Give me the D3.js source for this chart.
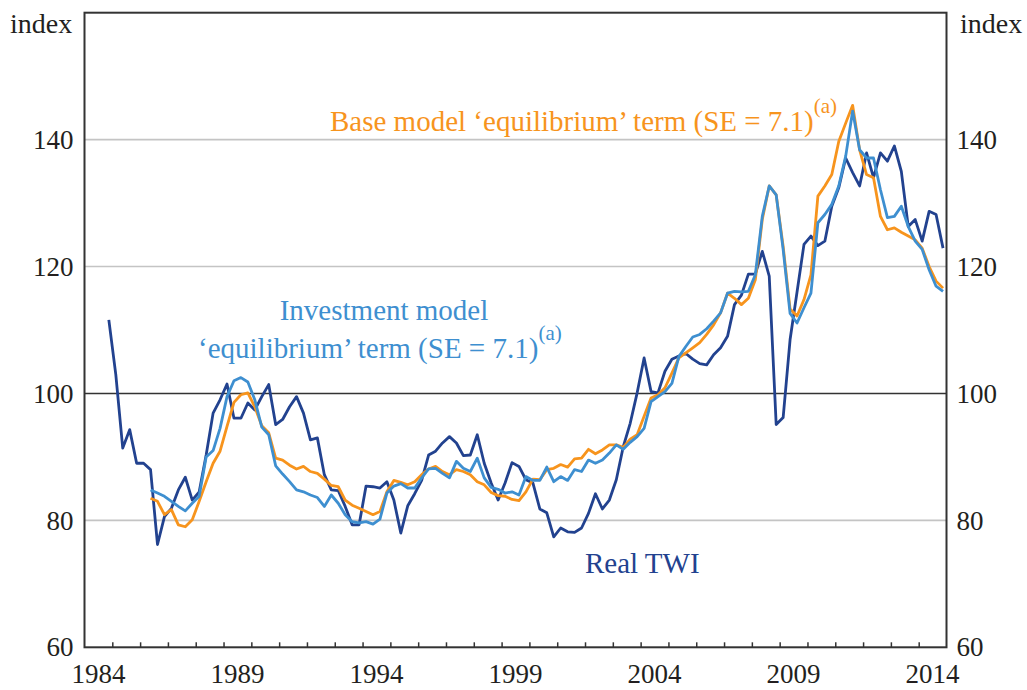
<!DOCTYPE html>
<html>
<head>
<meta charset="utf-8">
<script src="https://cdnjs.cloudflare.com/ajax/libs/d3/7.8.5/d3.min.js"></script>
<style>
  body { margin: 0; background: #fff; }
  svg text { font-family: "Liberation Serif", "Times New Roman", serif; }
</style>
</head>
<body>
<div id="chartContainer"></div>
<script>
// Quarterly values, real TWI from 1984 Q4, model terms from 1986 Q2
var twiStart = [1984, 4];
var realTWI = [
    111.6,
    103.0, 91.4, 94.3, 89.0,
    89.0, 88.0, 76.2, 80.6,
    81.9, 84.8, 86.8, 83.2,
    84.5, 90.3, 96.9, 99.0,
    101.5, 96.1, 96.1, 98.5,
    97.4, 99.5, 101.4, 95.1,
    95.9, 97.9, 99.5, 96.9,
    92.7, 93.0, 87.2, 84.8,
    84.7, 82.2, 79.3, 79.3,
    85.4, 85.3, 85.1, 86.1,
    83.2, 78.0, 82.3, 84.2,
    86.3, 90.3, 90.9, 92.2,
    93.2, 92.2, 90.2, 90.3,
    93.5, 89.0, 85.9, 83.2,
    85.9, 89.1, 88.5, 86.4,
    85.9, 81.8, 81.2, 77.4,
    78.8, 78.2, 78.1, 78.8,
    81.1, 84.2, 81.8, 83.2,
    86.4, 91.6, 95.3, 100.1,
    105.6, 100.3, 100.1, 103.5,
    105.4, 105.9, 106.3, 105.4,
    104.7, 104.5, 106.1, 107.2,
    109.0, 114.0, 115.5, 118.8,
    118.8, 122.4, 118.5, 95.1,
    96.2, 108.5, 116.0, 123.5,
    124.8, 123.3, 124.0, 129.5,
    132.4, 137.1, 134.8, 132.7,
    137.9, 134.0, 137.9, 136.6,
    139.0, 135.0, 126.3, 127.4,
    124.0, 128.7, 128.2, 122.9
];

var modelStart = [1986, 2];
var baseModel = [
    83.5, 83.0, 80.9,
    81.7, 79.3, 79.0, 80.1,
    83.0, 86.1, 89.0, 90.9,
    94.8, 98.6, 99.8, 100.1,
    97.9, 94.9, 93.8, 89.8,
    89.5, 88.7, 88.1, 88.5,
    87.7, 87.4, 86.5, 85.5,
    85.3, 83.2, 82.4, 81.9,
    81.4, 80.9, 81.4, 84.5,
    86.3, 86.0, 85.6, 86.1,
    87.2, 88.1, 88.5, 87.7,
    87.2, 88.0, 87.7, 87.2,
    86.1, 85.6, 84.4, 83.9,
    83.8, 83.3, 83.1, 84.5,
    86.5, 86.4, 88.0, 88.2,
    88.8, 88.4, 89.7, 89.8,
    91.2, 90.5, 91.1, 91.9,
    91.9, 91.5, 92.8, 93.5,
    96.4, 99.3, 99.8, 100.9,
    103.2, 105.6, 106.4, 107.2,
    108.0, 109.3, 110.8, 112.7,
    115.8, 115.0, 114.0, 115.0,
    117.9, 127.4, 132.7, 131.3,
    123.2, 113.3, 112.2, 114.8,
    118.7, 131.1, 132.7, 134.5,
    139.7, 142.6, 145.4, 138.4,
    134.5, 134.0, 127.9, 125.8,
    126.1, 125.4, 124.8, 124.2,
    122.9, 120.0, 117.7, 116.6
];

var investModel = [
    84.8, 84.3, 83.8,
    83.0, 82.2, 81.5, 82.7,
    83.8, 90.0, 91.0, 94.5,
    99.5, 102.0, 102.5, 101.8,
    99.0, 94.7, 93.5, 88.6,
    87.3, 86.1, 84.8, 84.5,
    84.0, 83.6, 82.2, 84.0,
    82.7, 80.9, 79.8, 79.6,
    79.8, 79.4, 80.2, 84.3,
    85.4, 85.8, 85.1, 85.1,
    86.7, 88.1, 88.2, 87.4,
    86.7, 89.3, 88.2, 87.7,
    89.8, 86.7, 85.2, 84.9,
    84.3, 84.5, 84.0, 86.9,
    86.3, 86.3, 88.4, 86.1,
    86.9, 86.3, 88.0, 87.7,
    89.5, 89.0, 89.5, 90.6,
    91.9, 91.2, 92.3, 93.2,
    94.5, 98.7, 99.5, 100.3,
    101.6, 105.8, 107.4, 108.9,
    109.3, 110.2, 111.4, 112.7,
    115.8, 116.1, 116.0, 116.1,
    118.7, 127.9, 132.7, 131.3,
    122.7, 112.6, 111.1, 113.5,
    115.8, 126.9, 128.2, 129.8,
    132.7, 137.4, 144.5, 138.4,
    137.1, 137.1, 132.1, 127.7,
    127.9, 129.5, 126.3, 124.0,
    122.7, 119.5, 116.9, 116.1
];

var yTicks = [60, 80, 100, 120, 140];
var yearLabels = [1984, 1989, 1994, 1999, 2004, 2009, 2014];

function init() {
    var w = 1027;
    var h = 690;
    var left = 84.5, right = 946.5, top = 12.7, bottom = 647.3;

    var darkBlue = "#22428f";
    var lightBlue = "#3e8fd0";
    var orange = "#f7941d";

    var svg = d3.select("#chartContainer")
                .append("svg")
                .attr("width", w)
                .attr("height", h);

    var x = d3.scaleLinear().domain([1984, 2015]).range([left, right]);
    var y = d3.scaleLinear().domain([60, 160]).range([bottom, top]);

    // turn a value array into dated points, mid-quarter
    function toPoints(values, start) {
        return values.map(function(v, i) {
            var q = (start[1] - 1) + i;
            return { t: start[0] + Math.floor(q / 4) + ((q % 4) + 0.5) / 4, v: v };
        });
    }

    // horizontal grid lines
    svg.selectAll("line.grid")
       .data(yTicks.filter(d => d > 60))
       .enter()
       .append("line")
       .attr("class", "grid")
       .attr("x1", left).attr("x2", right)
       .attr("y1", d => y(d)).attr("y2", d => y(d))
       .attr("stroke", d => d === 100 ? "#333" : "#c4c4c4")
       .attr("stroke-width", 1.6);

    // left and right value axes
    var yLeft = svg.append("g")
       .attr("transform", "translate(" + (left - 11) + ",0)")
       .call(d3.axisLeft(y).tickValues(yTicks).tickSize(0).tickPadding(0));
    var yRight = svg.append("g")
       .attr("transform", "translate(" + (right + 10) + ",0)")
       .call(d3.axisRight(y).tickValues(yTicks).tickSize(0).tickPadding(0));
    [yLeft, yRight].forEach(function(g) {
        g.select(".domain").remove();
        g.selectAll("text").attr("font-size", 27).attr("fill", "#231f20")
         .attr("font-family", "Liberation Serif");
    });

    // year ticks along the bottom, pointing inward
    var xAxis = svg.append("g")
       .attr("transform", "translate(0," + bottom + ")")
       .call(d3.axisBottom(x).tickValues(d3.range(1985, 2015)).tickSize(-5).tickFormat(""));
    xAxis.select(".domain").remove();
    xAxis.selectAll("line").attr("stroke", "#333").attr("stroke-width", 1.5);

    // year labels centred in their year
    svg.selectAll("text.year")
       .data(yearLabels)
       .enter()
       .append("text")
       .attr("class", "year")
       .attr("x", d => x(d + 0.5))
       .attr("y", 683)
       .attr("text-anchor", "middle")
       .attr("font-size", 27)
       .attr("fill", "#231f20")
       .text(d => d);

    svg.append("text").attr("x", 10).attr("y", 33)
       .attr("font-size", 28).attr("fill", "#231f20").text("index");
    svg.append("text").attr("x", 960).attr("y", 33)
       .attr("font-size", 28).attr("fill", "#231f20").text("index");

    // series lines
    var line = d3.line().x(d => x(d.t)).y(d => y(d.v));
    var series = [
        { pts: toPoints(realTWI, twiStart), color: darkBlue },
        { pts: toPoints(baseModel, modelStart), color: orange },
        { pts: toPoints(investModel, modelStart), color: lightBlue }
    ];
    svg.selectAll("path.series")
       .data(series)
       .enter()
       .append("path")
       .attr("class", "series")
       .attr("d", d => line(d.pts))
       .attr("fill", "none")
       .attr("stroke", d => d.color)
       .attr("stroke-width", 2.8)
       .attr("stroke-linejoin", "round");

    // frame
    svg.append("rect")
       .attr("x", left).attr("y", top)
       .attr("width", right - left).attr("height", bottom - top)
       .attr("fill", "none")
       .attr("stroke", "#333")
       .attr("stroke-width", 2);

    // labels on the lines
    var base = svg.append("text").attr("x", 330).attr("y", 131)
       .attr("font-size", 29).attr("fill", orange);
    base.append("tspan").text("Base model \u2018equilibrium\u2019 term (SE = 7.1)");
    base.append("tspan").attr("dy", -18).attr("font-size", 21).text("(a)");

    svg.append("text").attr("x", 384).attr("y", 320)
       .attr("text-anchor", "middle")
       .attr("font-size", 29).attr("fill", lightBlue)
       .text("Investment model");
    var inv = svg.append("text").attr("x", 198).attr("y", 358)
       .attr("font-size", 29).attr("fill", lightBlue);
    inv.append("tspan").text("\u2018equilibrium\u2019 term (SE = 7.1)");
    inv.append("tspan").attr("dy", -18).attr("font-size", 21).text("(a)");

    svg.append("text").attr("x", 585).attr("y", 573)
       .attr("font-size", 29).attr("fill", darkBlue)
       .text("Real TWI");
}

window.onload = init;
</script>
</body>
</html>
